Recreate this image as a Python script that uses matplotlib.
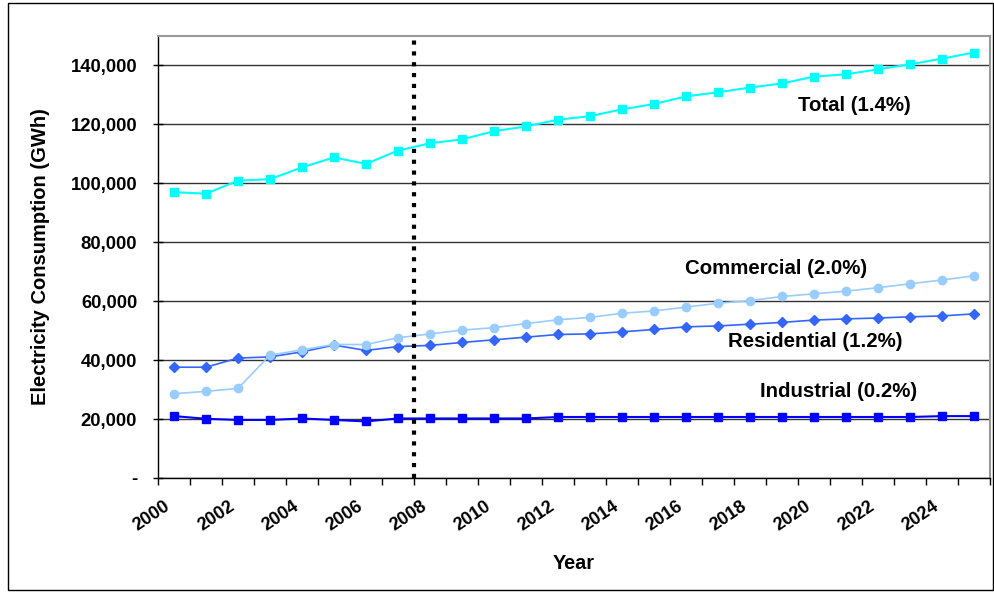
import matplotlib
matplotlib.use("Agg")
import matplotlib.pyplot as plt
import matplotlib.transforms as mtransforms
import numpy as np
from matplotlib.patches import Rectangle
from matplotlib.ticker import FuncFormatter, MultipleLocator

years = list(range(2000, 2026))
total = [97000, 96500, 100900, 101400, 105400, 108800, 106600, 111100, 113600, 114900,
         117700, 119300, 121600, 122800, 125100, 126900, 129500, 130900, 132500, 133900,
         136200, 137000, 138700, 140400, 142300, 144400]
commercial = [28600, 29400, 30400, 41700, 43500, 45300, 45300, 47600, 48900, 50200,
              51000, 52400, 53700, 54500, 55900, 56700, 58000, 59300, 60200, 61600,
              62500, 63400, 64600, 65900, 67200, 68600]
residential = [37600, 37600, 40700, 41100, 42800, 45100, 43300, 44600, 45000, 46000,
               46900, 47800, 48700, 48900, 49600, 50400, 51300, 51600, 52200, 52800,
               53600, 54000, 54300, 54700, 55000, 55700]
industrial = [21000, 20100, 19700, 19700, 20200, 19700, 19200, 20200, 20200, 20200,
              20200, 20200, 20700, 20700, 20700, 20700, 20700, 20700, 20700, 20700,
              20700, 20700, 20700, 20700, 21000, 21000]
labels = ["Total (1.4%)", "Commercial (2.0%)", "Residential (1.2%)", "Industrial (0.2%)"]
divider_year = 2008

plt.rcParams['font.family'] = ['Liberation Sans', 'DejaVu Sans']
fig = plt.figure(figsize=(9.95, 5.93), dpi=100)
ax = fig.add_axes([158/995, 1-478/593, (990-158)/995, (478-36)/593])

x = np.array(years) + 0.5
ax.plot(x, industrial, color='#0000FF', marker='s', ms=6, lw=1.5, zorder=3)
ax.plot(x, residential, color='#3366FF', marker='D', ms=5.5, lw=1.2, zorder=3)
ax.plot(x, commercial, color='#99CCFF', marker='o', ms=6, lw=1.2, zorder=3)
ax.plot(x, total, color='#00FFFF', marker='s', ms=6, lw=1.5, zorder=3)

ax.axvline(divider_year, color='black', lw=3, linestyle=(0, (1.0, 1.6)), zorder=4)

ax.set_xlim(2000, 2026)
ax.set_ylim(0, 150000)
ax.yaxis.set_major_locator(MultipleLocator(20000))
ax.yaxis.set_major_formatter(FuncFormatter(lambda v, p: '-' if v == 0 else f'{int(v):,}'))
ax.grid(axis='y', color='#333333', lw=1)
ax.set_axisbelow(True)

ax.set_xticks(range(2000, 2026, 2))
ax.set_xticklabels([str(y) for y in range(2000, 2026, 2)], rotation=34, ha='right',
                   rotation_mode='anchor', fontweight='bold', fontsize=13)
ax.set_xticks(range(2000, 2027), minor=True)
ax.tick_params(axis='x', which='both', direction='out', length=5, width=1, color='black', pad=9)
ax.tick_params(axis='y', direction='inout', length=7, width=1, pad=11.5, labelsize=13.3)
for t in ax.get_yticklabels():
    t.set_fontweight('bold')
shift = mtransforms.ScaledTranslation(6/100, 0, fig.dpi_scale_trans)
for t in ax.get_xticklabels():
    t.set_transform(t.get_transform() + shift)

for side in ['top', 'right']:
    ax.spines[side].set_color('#999999')
    ax.spines[side].set_linewidth(1.5)
for side in ['left', 'bottom']:
    ax.spines[side].set_color('black')
    ax.spines[side].set_linewidth(1)

ax.set_xlabel('Year', fontweight='bold', fontsize=14.3, labelpad=14)
ax.set_ylabel('Electricity Consumption (GWh)', fontweight='bold', fontsize=14.5)
ax.yaxis.set_label_coords(-(158-50)/832, 0.5)

ax.text(2021.75, 126300, labels[0], fontweight='bold', fontsize=14.7, ha='center', va='center')
ax.text(2019.31, 71200, labels[1], fontweight='bold', fontsize=14.7, ha='center', va='center')
ax.text(2020.53, 46400, labels[2], fontweight='bold', fontsize=14.7, ha='center', va='center')
ax.text(2021.27, 29500, labels[3], fontweight='bold', fontsize=14.7, ha='center', va='center')

fig.patches.append(Rectangle((8/995, 3/593), (993-8)/995, (590-3)/593, transform=fig.transFigure,
                             fill=False, edgecolor='black', lw=1))

fig.savefig('out.png', dpi=100)
